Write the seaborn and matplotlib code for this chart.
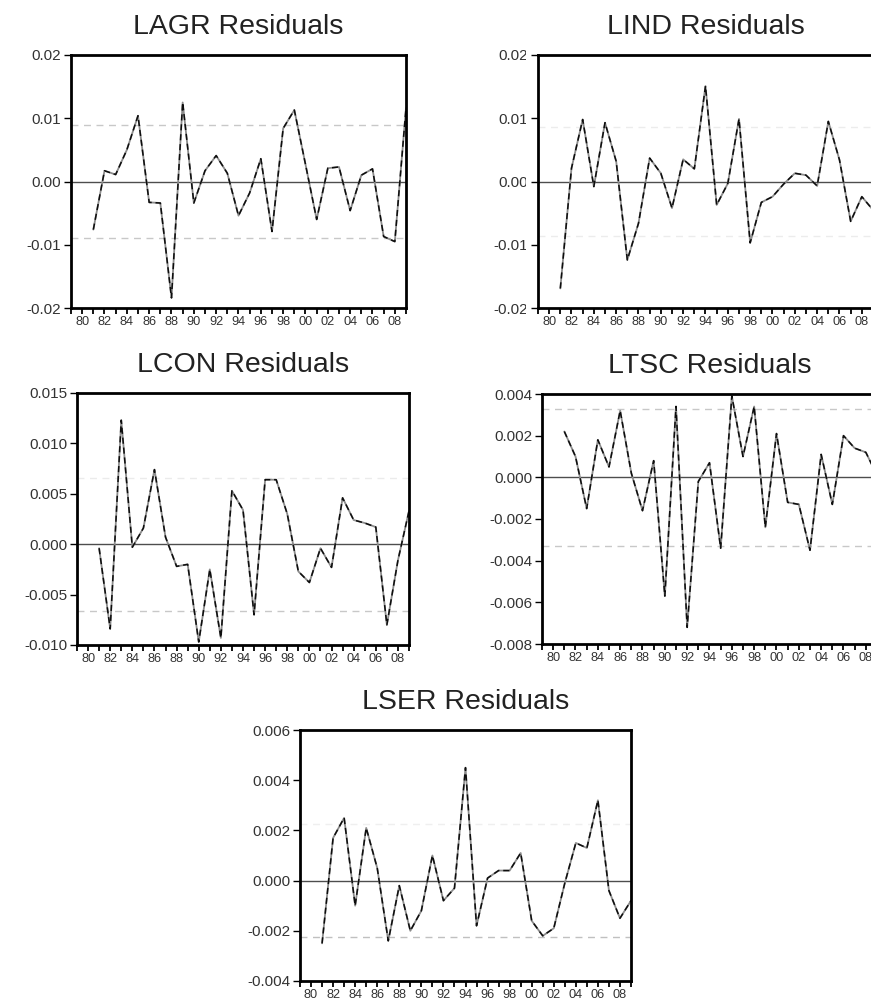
# residual plots for the five sector equations
import matplotlib
matplotlib.use("Agg")
import numpy as np
import pandas as pd
import matplotlib.pyplot as plt
import seaborn as sns
from matplotlib.transforms import Bbox, TransformedBbox

years = list(range(1981, 2010))
tick_years = list(range(1979, 2010))
label_years = list(range(1980, 2010, 2))
year_labels = ["80", "82", "84", "86", "88", "90", "92", "94", "96", "98",
               "00", "02", "04", "06", "08"]

lagr = [-0.0076, 0.0017, 0.0011, 0.0050, 0.0104, -0.0033, -0.0034, -0.0184,
        0.0125, -0.0034, 0.0017, 0.0041, 0.0013, -0.0054, -0.0018, 0.0036,
        -0.0079, 0.0084, 0.0113, 0.0027, -0.0060, 0.0021, 0.0023, -0.0046,
        0.0010, 0.0020, -0.0087, -0.0095, 0.0116]
lind = [-0.0169, 0.0021, 0.0098, -0.0008, 0.0093, 0.0032, -0.0124, -0.0066,
        0.0037, 0.0013, -0.0042, 0.0035, 0.0020, 0.0151, -0.0037, -0.0003,
        0.0099, -0.0097, -0.0033, -0.0024, -0.0004, 0.0013, 0.0010, -0.0007,
        0.0095, 0.0034, -0.0063, -0.0024, -0.0045]
lcon = [-0.0004, -0.0084, 0.0123, -0.0003, 0.0016, 0.0074, 0.0007, -0.0022,
        -0.0020, -0.0097, -0.0025, -0.0093, 0.0053, 0.0034, -0.0070, 0.0064,
        0.0064, 0.0030, -0.0027, -0.0038, -0.0004, -0.0023, 0.0046, 0.0024,
        0.0021, 0.0017, -0.0080, -0.0016, 0.0033]
ltsc = [0.0022, 0.0010, -0.0015, 0.0018, 0.0005, 0.0032, 0.0002, -0.0016,
        0.0008, -0.0057, 0.0034, -0.0072, -0.0002, 0.0007, -0.0034, 0.0039,
        0.0010, 0.0034, -0.0024, 0.0021, -0.0012, -0.0013, -0.0035, 0.0011,
        -0.0013, 0.0020, 0.0014, 0.0012, 0.0001]
lser = [-0.0025, 0.0017, 0.0025, -0.0010, 0.0021, 0.0005, -0.0024, -0.0002,
        -0.0020, -0.0012, 0.0010, -0.0008, -0.0003, 0.0045, -0.0018, 0.0001,
        0.0004, 0.0004, 0.0011, -0.0016, -0.0022, -0.0019, -0.0001, 0.0015,
        0.0013, 0.0032, -0.0004, -0.0015, -0.0008]

# +/- one standard error bands
bands = {"LAGR": 0.0090, "LIND": 0.0086, "LCON": 0.0066, "LTSC": 0.0033, "LSER": 0.00226}

yticks = {
    "LAGR": [-0.02, -0.01, 0.0, 0.01, 0.02],
    "LIND": [-0.02, -0.01, 0.0, 0.01, 0.02],
    "LCON": [-0.010, -0.005, 0.0, 0.005, 0.010, 0.015],
    "LTSC": [-0.008, -0.006, -0.004, -0.002, 0.0, 0.002, 0.004],
    "LSER": [-0.004, -0.002, 0.0, 0.002, 0.004, 0.006],
}

sns.set_style("ticks")
plt.rcParams["font.family"] = ["Liberation Sans", "DejaVu Sans"]

W, H = 871, 1000
fig = plt.figure(figsize=(W / 100, H / 100), dpi=100)


def px_rect(left, right, top, bottom):
    return [left / W, 1 - bottom / H, (right - left) / W, (bottom - top) / H]


def fmt_tick(t, decimals):
    s = f"{t:.{decimals}f}"
    if t == 0:
        s = s.lstrip("-")
    return s


def draw_panel(name, values, rect, decimals, band_colors, clip_px=None):
    ax = fig.add_axes(px_rect(*rect))
    df = pd.DataFrame({"year": years, "resid": values})
    sns.lineplot(data=df, x="year", y="resid", ax=ax, color="0.55", lw=1.3)
    sns.lineplot(data=df, x="year", y="resid", ax=ax, color="0.05", lw=1.1,
                 linestyle=(0, (4, 2.5)))
    ax.axhline(0, color="0.3", lw=1.0, zorder=1)
    ax.axhline(bands[name], color=band_colors[0], lw=1.0, ls=(0, (5, 4)), zorder=1)
    ax.axhline(-bands[name], color=band_colors[1], lw=1.0, ls=(0, (5, 4)), zorder=1)

    ticks = yticks[name]
    ax.set_ylim(ticks[0], ticks[-1])
    ax.set_yticks(ticks)
    ax.set_yticklabels([fmt_tick(t, decimals) for t in ticks])
    ax.set_xlim(1979, 2009)
    ax.set_xticks(tick_years, minor=True)
    ax.set_xticks(label_years)
    ax.set_xticklabels(year_labels)
    ax.set_xlabel("")
    ax.set_ylabel("")
    ax.set_title(name + " Residuals", fontsize=20.5, color="#222222", pad=15)

    for side in ["top", "right", "bottom", "left"]:
        ax.spines[side].set_color("black")
        ax.spines[side].set_linewidth(2.0)
    ax.tick_params(axis="y", length=5, width=1.0, labelsize=11, colors="black",
                   labelcolor="#333333", pad=2)
    ax.tick_params(axis="x", which="both", length=4, width=1.3, labelsize=9.2,
                   colors="black", labelcolor="#333333", pad=2)

    if clip_px is not None:
        box = TransformedBbox(Bbox.from_extents(0, 0, clip_px / W, 1), fig.transFigure)
        for lab in ax.get_yticklabels():
            lab.set_clip_on(True)
            lab.set_clip_box(box)
    return ax


draw_panel("LAGR", lagr, (71, 406, 55, 308), 2, ("#c8c8c8", "#c8c8c8"))
draw_panel("LIND", lind, (538, 873, 55, 308), 2, ("#ececec", "#ececec"), clip_px=526)
draw_panel("LCON", lcon, (77, 409, 393, 645), 3, ("#ebebeb", "#c8c8c8"))
draw_panel("LTSC", ltsc, (542, 877, 394, 644), 3, ("#c8c8c8", "#c8c8c8"))
draw_panel("LSER", lser, (300, 631, 730, 981), 3, ("#efefef", "#c0c0c0"))

fig.savefig("out.png", dpi=100)
